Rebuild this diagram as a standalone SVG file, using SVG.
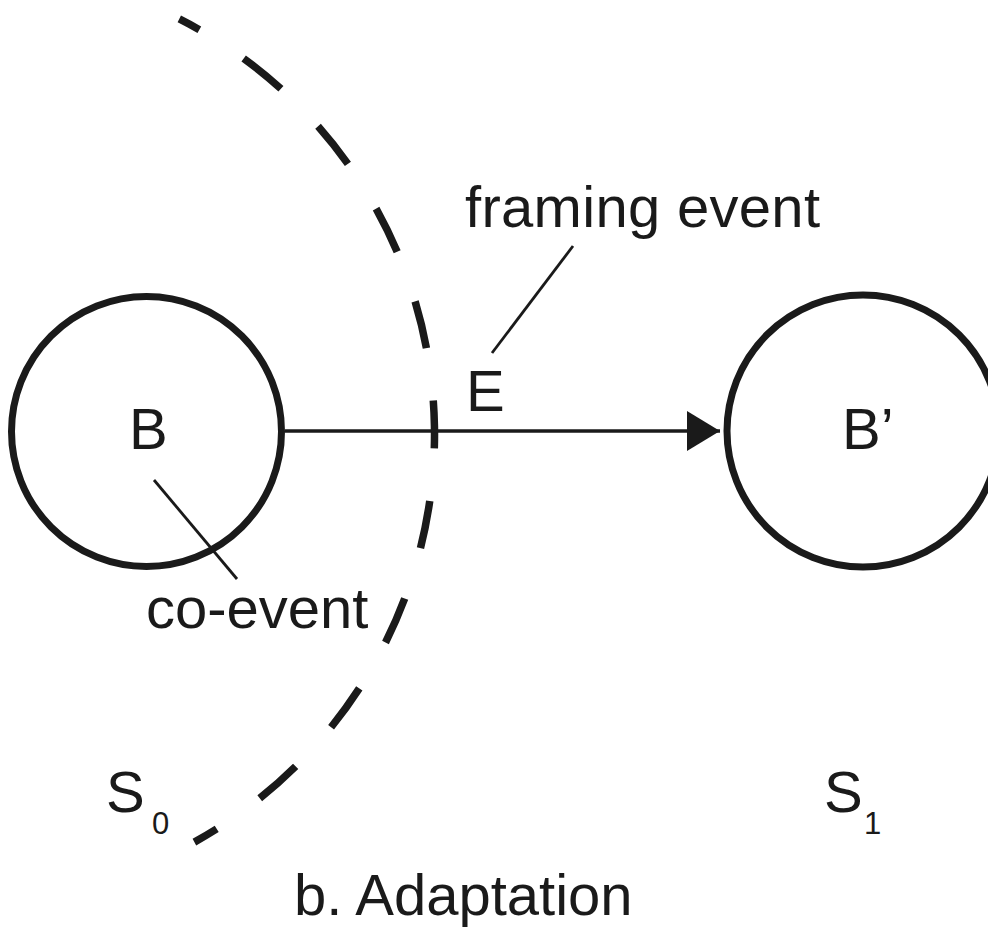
<svg xmlns="http://www.w3.org/2000/svg" width="988" height="930" viewBox="0 0 988 930">
<defs>
<style>
.lbl{font-family:"Liberation Sans",Arial,Helvetica,sans-serif;font-size:58px;fill:#1a1a1a}
.sub{font-family:"Liberation Sans",Arial,Helvetica,sans-serif;font-size:31px;fill:#1a1a1a}
.node{fill:none;stroke:#1a1a1a;stroke-width:7}
.lead{stroke:#1a1a1a;stroke-width:2.8;fill:none}
</style>
<marker id="ah" markerUnits="userSpaceOnUse" markerWidth="34" markerHeight="40" refX="33" refY="20" orient="auto">
<polygon points="0,0 33,20 0,40" fill="#1a1a1a"/>
</marker>
</defs>
<rect width="988" height="930" fill="#ffffff"/>
<g id="boundary">
<path d="M179.3,18.9 A466,466 0 0 1 194.4,842.1" fill="none" stroke="#1a1a1a" stroke-width="7.5" stroke-dasharray="48 52.85" stroke-dashoffset="25.2"/>
</g>
<g id="connectors">
<line x1="285" y1="431" x2="720" y2="431" stroke="#1a1a1a" stroke-width="3.5" marker-end="url(#ah)"/>
<line class="lead" x1="573" y1="246" x2="492" y2="353"/>
<line class="lead" x1="154" y1="480" x2="237" y2="579"/>
</g>
<g id="node-B">
<circle class="node" cx="146.5" cy="431.5" r="135"/>
<text class="lbl" x="129" y="449">B</text>
</g>
<g id="node-B-prime">
<circle class="node" cx="863" cy="431" r="136"/>
<text class="lbl" x="842" y="449">B’</text>
</g>
<g id="label-E">
<text class="lbl" x="466" y="411">E</text>
</g>
<g id="label-framing">
<text class="lbl" x="465" y="227" textLength="355">framing event</text>
</g>
<g id="label-coevent">
<text class="lbl" x="146" y="628">co-event</text>
</g>
<g id="label-S0">
<text class="lbl" x="106" y="812">S</text>
<text class="sub" x="152" y="834">0</text>
</g>
<g id="label-S1">
<text class="lbl" x="824" y="812">S</text>
<text class="sub" x="864" y="834">1</text>
</g>
<g id="caption">
<text class="lbl" x="294" y="915">b. Adaptation</text>
</g>
</svg>
